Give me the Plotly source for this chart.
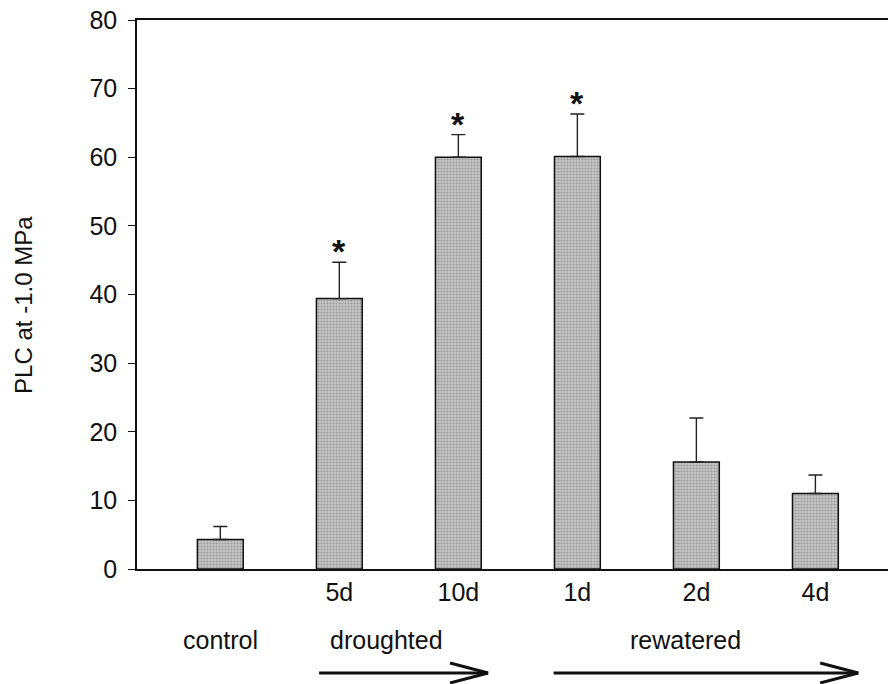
import plotly.graph_objects as go

# ---- data ----
categories = ["control", "5d", "10d", "1d", "2d", "4d"]
tick_labels = ["", "5d", "10d", "1d", "2d", "4d"]
plc_values = [4.3, 39.4, 60.0, 60.1, 15.6, 11.0]
plc_errors = [1.9, 5.3, 3.3, 6.2, 6.4, 2.7]
significant = [False, True, True, True, False, False]
group_labels = ["control", "droughted", "rewatered"]
group_label_pos = [0.0, 1.40, 3.91]
arrow_spans = [(0.83, 2.25), (2.80, 5.36)]

FONT = "Liberation Sans, Arial, sans-serif"
FS = 25
x_idx = list(range(len(categories)))

fig = go.Figure()
fig.add_trace(go.Bar(
    x=x_idx, y=plc_values, width=0.385,
    marker=dict(color="#b8b8b8", line=dict(color="#111", width=1.5),
                pattern=dict(shape=".", fgcolor="#707070", bgcolor="#c6c6c6",
                             size=3, solidity=0.4)),
    error_y=dict(type="data", symmetric=False, array=plc_errors,
                 arrayminus=[0] * len(plc_errors), color="#222",
                 thickness=1.4, width=7),
    showlegend=False,
))

ann = []
for i, (v, e, s) in enumerate(zip(plc_values, plc_errors, significant)):
    if s:
        ann.append(dict(x=i, y=v + e, xref="x", yref="y", text="<b>*</b>",
                        showarrow=False, font=dict(size=34, color="#111", family=FONT),
                        yanchor="middle", yshift=11))

for lbl, pos in zip(group_labels, group_label_pos):
    ann.append(dict(x=pos, y=-0.129, xref="x", yref="paper", text=lbl,
                    showarrow=False, font=dict(size=FS, color="#111", family=FONT),
                    xanchor="center", yanchor="middle"))

ann.append(dict(x=-0.1505, y=0.481, xref="paper", yref="paper",
                text="PLC at -1.0 MPa", textangle=-90, showarrow=False,
                font=dict(size=FS - 1, color="#111", family=FONT),
                xanchor="center", yanchor="middle"))

shapes = []
ay = -0.1894
head_dx = 0.32
head_dy = 10 / 549
for x0, x1 in arrow_spans:
    shapes.append(dict(type="line", xref="x", yref="paper", x0=x0, x1=x1, y0=ay, y1=ay,
                       line=dict(color="#111", width=3)))
    shapes.append(dict(type="line", xref="x", yref="paper", x0=x1 - head_dx, x1=x1,
                       y0=ay + head_dy, y1=ay, line=dict(color="#111", width=3)))
    shapes.append(dict(type="line", xref="x", yref="paper", x0=x1 - head_dx, x1=x1,
                       y0=ay - head_dy, y1=ay, line=dict(color="#111", width=3)))

fig.update_layout(
    width=888, height=684,
    margin=dict(l=137, r=0, t=20, b=115),
    plot_bgcolor="white", paper_bgcolor="white",
    font=dict(family=FONT, size=FS, color="#111"),
    annotations=ann, shapes=shapes,
    xaxis=dict(range=[-0.7, 5.61], tickvals=x_idx, ticktext=tick_labels,
               showline=True, linecolor="#111", linewidth=1.5, mirror=True,
               ticks="", showgrid=False, zeroline=False,
               tickfont=dict(size=FS, family=FONT, color="#111")),
    yaxis=dict(range=[0, 80], dtick=10, showline=True, linecolor="#111",
               linewidth=1.5, ticks="outside", ticklen=7, tickwidth=1.3,
               tickcolor="#111", showgrid=False, zeroline=False,
               ticklabelstandoff=6,
               tickfont=dict(size=FS, family=FONT, color="#111")),
)

fig.write_html("out.html")
